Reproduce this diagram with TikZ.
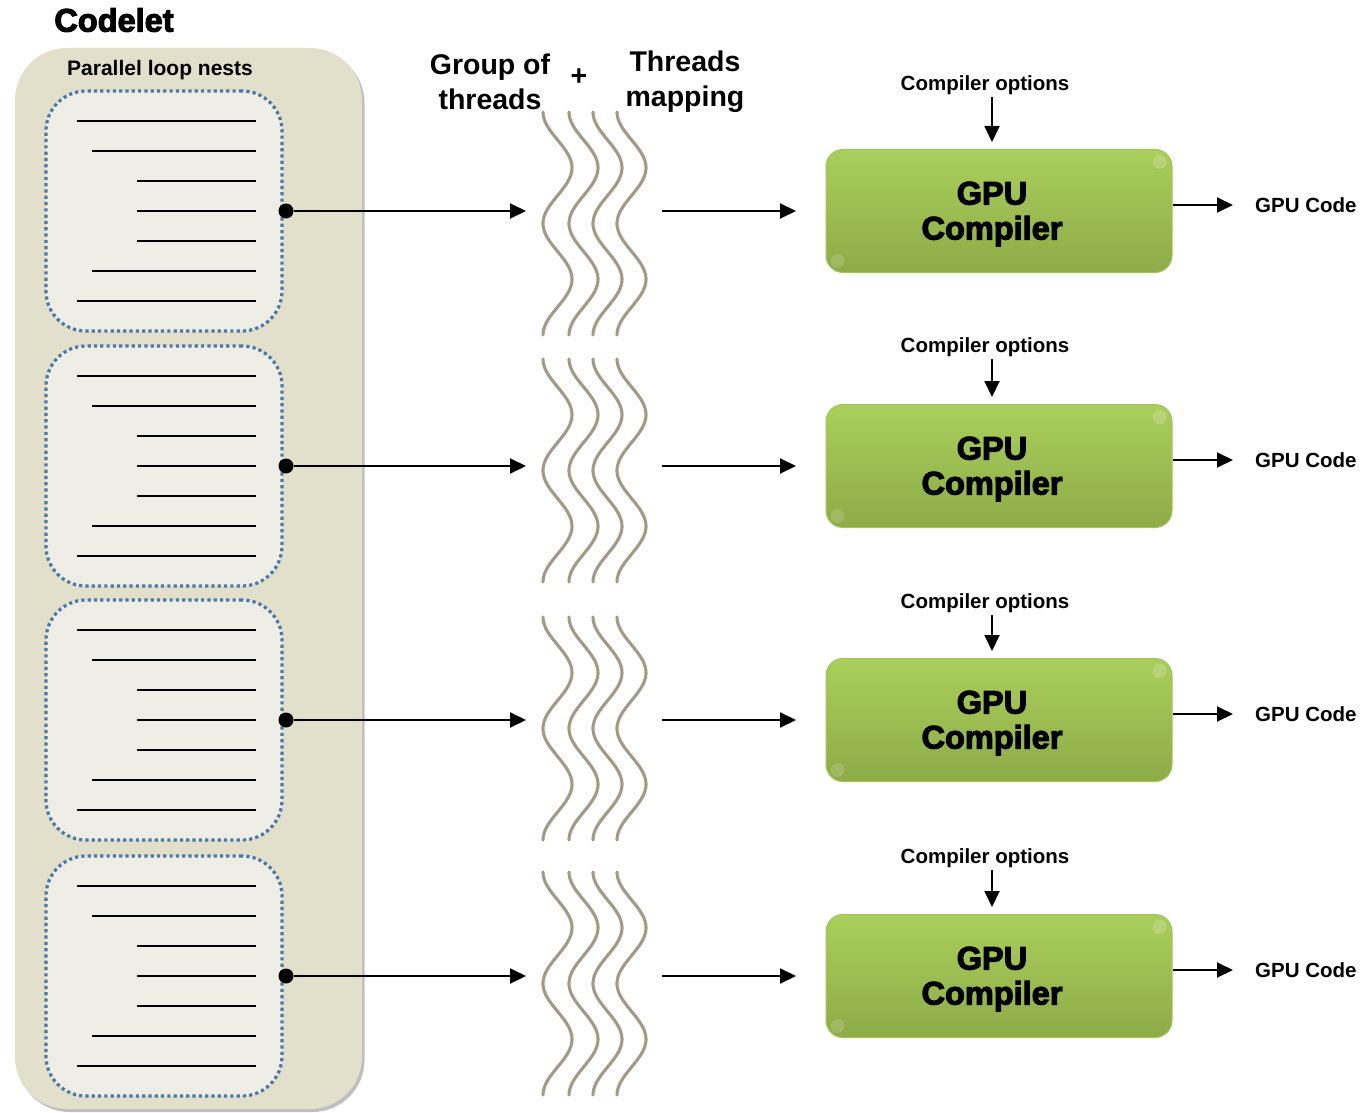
\documentclass[tikz,border=0pt]{standalone}
\usepackage{fontspec}
\setmainfont{Liberation Sans}
\newfontfamily\heavyfont{Liberation Sans}[UprightFont={* Bold}, UprightFeatures={FakeBold=3.4}]
\usetikzlibrary{arrows.meta,shadows,calc}

\definecolor{tanfill}{HTML}{E2DFCB}
\definecolor{nestfill}{HTML}{EFEEE6}
\definecolor{nestblue}{HTML}{4A78A8}
\definecolor{threadcol}{HTML}{A09A86}
\definecolor{gpuTop}{HTML}{AACF5C}
\definecolor{gpuBot}{HTML}{8DAB47}
\definecolor{gpuEdge}{HTML}{A3C45A}

\begin{document}
\begin{tikzpicture}[x=1pt,y=-1pt,
  arr/.style={line width=1.9pt,-{Triangle[length=16pt,width=15pt]}},
  codeletbox/.style={fill=tanfill,rounded corners=52pt,minimum width=347pt,minimum height=1061pt,inner sep=0pt,
    drop shadow={shadow xshift=2.5pt,shadow yshift=-3pt,fill=black!55,opacity=.45}},
  nestbox/.style={draw=nestblue,line width=3.2pt,dash pattern=on 3.2pt off 3.1pt,fill=nestfill,
    rounded corners=40pt,minimum width=236pt,minimum height=240pt,inner sep=0pt},
  codeline/.style={line width=2pt},
  joint/.style={circle,fill=black,minimum size=15pt,inner sep=0pt},
  thread/.style={draw=threadcol,line width=3.1pt,line cap=round},
  gpubox/.style={rounded corners=17pt,minimum width=346pt,minimum height=123pt,inner sep=0pt,
    top color=gpuTop,bottom color=gpuBot,draw=gpuEdge,line width=1pt},
  gputext/.style={align=center,font=\heavyfont\fontsize{32.5}{35}\selectfont},
  small/.style={font=\bfseries\fontsize{20.5}{24}\selectfont,inner sep=2pt},
  head/.style={font=\bfseries\fontsize{28.5}{35}\selectfont,align=center},
]
\useasboundingbox (0,0) rectangle (1366,1113);
\fill[white] (0,0) rectangle (1366,1113);

% codelet container
\node[codeletbox] (codelet) at (188.5,578.5) {};
\node[font=\heavyfont\fontsize{32.5}{34}\selectfont] (codeletT) at (114,20) {Codelet};
\node[font=\bfseries\fontsize{21}{24}\selectfont] (nestsT) at (160,70) {Parallel loop nests};

% column headings
\node[head] (groupT) at (490,82) {Group of\\threads};
\node[head] (plusT) at (579,77) {+};
\node[head] (mapT) at (685,82) {Threads\\mapping};

\foreach \i/\y/\top/\opt in {0/211/112/85, 1/466/359/347, 2/720/617/603, 3/976/872/858}{
  % loop nest with its code lines
  \node[nestbox] (nest\i) at (164,\y) {};
  \foreach \k/\xs in {0/77,1/92,2/137,3/137,4/137,5/92,6/77}{
    \draw[codeline] (\xs,\y-90+30*\k) -- (256,\y-90+30*\k);
  }
  \node[joint] (dot\i) at (286,\y) {};
  \coordinate (win\i) at (526,\y);
  \coordinate (wout\i) at (662,\y);
  \coordinate (gin\i) at (796,\y);
  \draw[arr] (dot\i) -- (win\i);

  % group of threads: two full sine periods per thread
  \foreach \xo in {543,569,593,617}{
    \draw[thread] plot[domain=0:223,samples=90,variable=\t]
      ({\xo+14.5-14.5*cos(\t*3.2287)},{\top+\t});
  }
  \draw[arr] (wout\i) -- (gin\i);

  % compiler stage
  \node[gpubox] (gpu\i) at (999,\y) {};
  \fill[white,opacity=.18] ([shift={(-13pt,-13pt)}]gpu\i.north east) circle (7pt);
  \fill[white,opacity=.15] ([shift={(12pt,12pt)}]gpu\i.south west) circle (7pt);
  \node[gputext] (gpuT\i) at (992,\y+3) {GPU\\Compiler};
  \node[small] (opt\i) at (985,\opt) {Compiler options};
  \draw[arr,shorten >=7pt] (opt\i.south -| gpuT\i) -- (gpu\i.north -| gpuT\i);
  \node[small,anchor=west] (code\i) at (1253,\y-6) {GPU Code};
  \draw[arr,shorten >=20pt] (gpu\i.east |- code\i) -- (code\i.west);
}
\end{tikzpicture}
\end{document}
